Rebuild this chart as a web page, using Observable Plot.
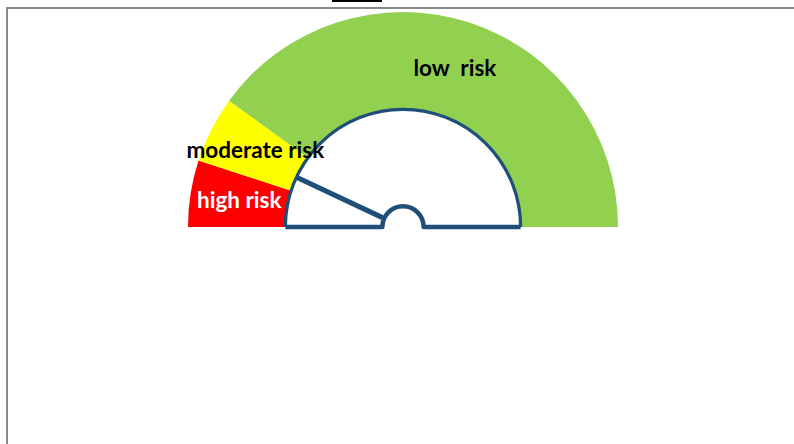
<!DOCTYPE html>
<html>
<head>
<meta charset="utf-8">
<script src="https://cdn.jsdelivr.net/npm/d3@7"></script>
<script src="https://cdn.jsdelivr.net/npm/@observablehq/plot@0.6"></script>
<style>
  html, body { margin: 0; padding: 0; background: #fff; overflow: hidden; }
  #wrap { position: relative; width: 794px; height: 444px; }
  #frame { position: absolute; left: 6px; top: 6.5px; width: 800px; height: 450px;
           border: 2px solid #8a8a8a; pointer-events: none; box-sizing: border-box; }
  #titlebar { position: absolute; left: 332px; top: 0; width: 50px; height: 1.5px; background: #000; }
  svg text { white-space: pre; }
</style>
</head>
<body>
<div id="wrap"><div id="chart"></div><div id="frame"></div><div id="titlebar"></div></div>
<script>
// ---- data ----
const segments = ["high risk", "moderate risk", "low risk"];
const shares = [10, 10, 80];               // percent of the half-dial, left to right
const segmentColors = ["#FF0000", "#FFFF00", "#92D050"];
const labelColors = ["#FFFFFF", "#000000", "#000000"];
const labelTexts = ["high risk", "moderate risk", "low  risk"];
const needleValue = 14;                    // percent of the dial, from the left

// ---- geometry (relative to outer radius = 1) ----
const holeR = 0.547;
const hubR = 0.096;
const blue = "#1F4E79";

const rows = segments.map((s, i) => ({segment: s, share: shares[i], color: segmentColors[i], label: labelTexts[i], labelColor: labelColors[i]}));
let acc = 0;
rows.forEach(d => { d.start = acc; acc += d.share; d.end = acc; d.mid = (d.start + d.end) / 2; });
const theta = v => Math.PI * (1 - v / 100);   // value -> math angle
const labelR = (holeR + 1) / 2;
rows.forEach(d => { d.lx = Math.cos(theta(d.mid)) * labelR; d.ly = Math.sin(theta(d.mid)) * labelR; });

const needle = [{
  x1: Math.cos(theta(needleValue)) * (hubR + 0.012), y1: Math.sin(theta(needleValue)) * (hubR + 0.012),
  x2: Math.cos(theta(needleValue)) * holeR, y2: Math.sin(theta(needleValue)) * holeR
}];

function ringMark(index, scales) {
  const {x, y} = scales;
  const cx = x(0), cy = y(0), R = x(1) - x(0);
  const g = d3.create("svg:g");
  const pie = d3.pie().sort(null).startAngle(-Math.PI / 2).endAngle(Math.PI / 2).value(d => d.share);
  const arc = d3.arc().innerRadius(R * holeR).outerRadius(R);
  g.append("g").attr("transform", `translate(${cx},${cy})`)
    .selectAll("path").data(pie(rows)).join("path")
    .attr("d", arc).attr("fill", d => d.data.color);
  return g.node();
}

function dialShape(fill, stroke, part) {
  return function(index, scales) {
    const {x, y} = scales;
    const cx = x(0), cy = y(0), R = x(1) - x(0);
    const p = d3.path();
    if (part === "arc") {
      p.moveTo(cx + R * holeR, cy);
      p.arc(cx, cy, R * holeR, 0, Math.PI, true);
    } else if (part === "base") {
      p.moveTo(cx - R * holeR, cy);
      p.lineTo(cx - R * hubR, cy);
      p.arc(cx, cy, R * hubR, Math.PI, 2 * Math.PI, false);
      p.lineTo(cx + R * holeR, cy);
    } else {
      p.moveTo(cx - R * holeR, cy);
      p.lineTo(cx - R * hubR, cy);
      p.arc(cx, cy, R * hubR, Math.PI, 2 * Math.PI, false);
      p.lineTo(cx + R * holeR, cy);
      p.arc(cx, cy, R * holeR, 0, Math.PI, true);
      p.closePath();
    }
    const el = d3.create("svg:path").attr("d", p.toString())
      .attr("fill", fill).attr("stroke", stroke)
      .attr("stroke-width", stroke === "none" ? 0 : (part === "base" ? 4.5 : 3.2))
      .attr("stroke-linejoin", "round");
    return el.node();
  };
}

const chart = Plot.plot({
  width: 794,
  height: 444,
  margin: 0,
  style: {background: "transparent", fontFamily: "Lato, sans-serif"},
  x: {domain: [-1, 1], range: [188, 618], axis: null},
  y: {domain: [0, 1], range: [227, 12], axis: null},
  marks: [
    ringMark,
    dialShape("#FFFFFF", "none", "fill"),
    Plot.link(needle, {x1: "x1", y1: "y1", x2: "x2", y2: "y2", stroke: blue, strokeWidth: 5, strokeLinecap: "butt"}),
    dialShape("none", blue, "arc"),
    dialShape("none", blue, "base"),
    Plot.text(rows, {x: "lx", y: "ly", text: "label", fill: d => d.labelColor, fontSize: 22.5, fontWeight: "bold", textAnchor: "middle", lineAnchor: "middle", dy: -1})
  ]
});
document.getElementById("chart").appendChild(chart);
</script>
</body>
</html>
